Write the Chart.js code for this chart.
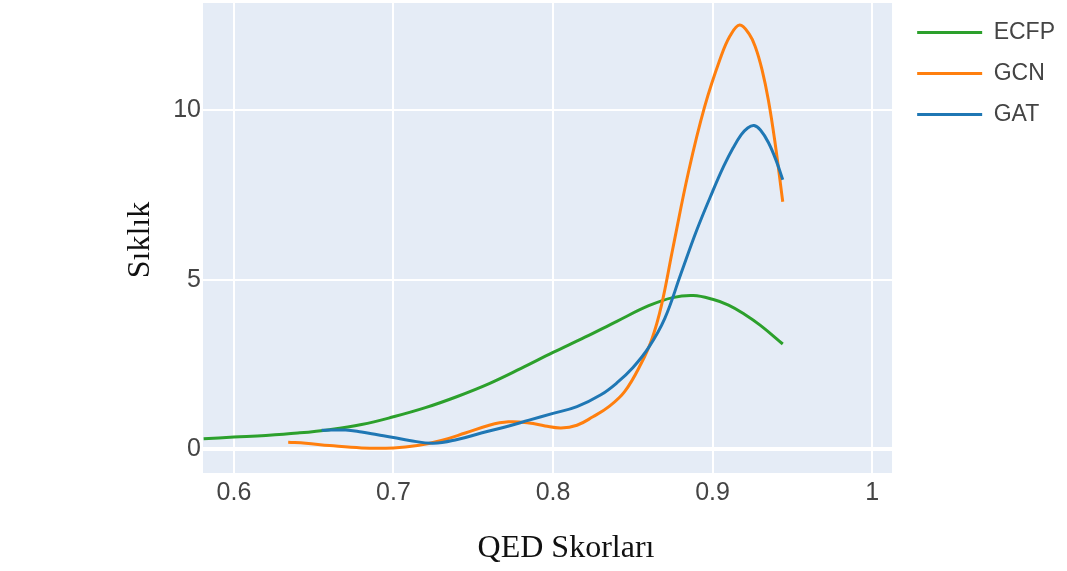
<!DOCTYPE html>
<html>
<head>
<meta charset="utf-8">
<script src="https://cdn.jsdelivr.net/npm/chart.js@4/dist/chart.umd.min.js"></script>
<style>
  html, body { margin: 0; padding: 0; background: #fff; }
  #wrap { width: 1067px; height: 571px; }
</style>
</head>
<body>
<div id="wrap"><canvas id="myChart" width="1067" height="571"></canvas></div>
<script>
// series (QED score -> density)
const seriesNames = ['ECFP', 'GCN', 'GAT'];
const seriesColors = ['#2ca02c', '#ff7f0e', '#1f77b4'];

const ecfpX = [0.581, 0.6, 0.62, 0.64, 0.66, 0.68, 0.70, 0.72, 0.74, 0.76, 0.78, 0.80, 0.82, 0.84, 0.86, 0.875, 0.888, 0.90, 0.91, 0.92, 0.93, 0.944];
const ecfpY = [0.30, 0.35, 0.40, 0.47, 0.57, 0.72, 0.95, 1.22, 1.55, 1.93, 2.38, 2.85, 3.3, 3.77, 4.23, 4.47, 4.53, 4.42, 4.25, 3.98, 3.65, 3.1];

const gcnX = [0.634, 0.645, 0.66, 0.68, 0.70, 0.715, 0.73, 0.745, 0.76, 0.772, 0.785, 0.795, 0.805, 0.815, 0.825, 0.835, 0.845, 0.855, 0.862, 0.868, 0.875, 0.885, 0.895, 0.905, 0.911, 0.917, 0.923, 0.927, 0.931, 0.935, 0.939, 0.944];
const gcnY = [0.2, 0.17, 0.1, 0.03, 0.03, 0.1, 0.25, 0.47, 0.7, 0.8, 0.77, 0.68, 0.62, 0.7, 0.95, 1.25, 1.7, 2.5, 3.25, 4.25, 5.9, 8.2, 10.1, 11.55, 12.2, 12.52, 12.25, 11.85, 11.2, 10.3, 9.1, 7.3];

const gatX = [0.655, 0.67, 0.68, 0.69, 0.70, 0.71, 0.725, 0.74, 0.755, 0.77, 0.785, 0.80, 0.815, 0.83, 0.84, 0.85, 0.86, 0.87, 0.88, 0.89, 0.90, 0.907, 0.913, 0.918, 0.922, 0.926, 0.93, 0.935, 0.94, 0.944];
const gatY = [0.55, 0.56, 0.5, 0.42, 0.34, 0.25, 0.17, 0.28, 0.47, 0.65, 0.85, 1.05, 1.25, 1.6, 1.95, 2.4, 3.0, 3.85, 5.15, 6.45, 7.6, 8.35, 8.9, 9.28, 9.48, 9.55, 9.42, 9.05, 8.5, 7.95];

const xTicks = [0.6, 0.7, 0.8, 0.9, 1];
const yTicks = [0, 5, 10];
const xTitle = 'QED Skorları';
const yTitle = 'Sıklık';

const xMin = 0.5806, xPlotMax = 1.0125;
const yMin = -0.71, yMax = 13.17;

function toPoints(xs, ys) {
  return xs.map((x, i) => ({ x: x, y: ys[i] }));
}

const allX = [ecfpX, gcnX, gatX];
const allY = [ecfpY, gcnY, gatY];

const datasets = seriesNames.map((name, i) => ({
  label: name,
  data: toPoints(allX[i], allY[i]),
  borderColor: seriesColors[i],
  backgroundColor: seriesColors[i],
  borderWidth: 3,
  pointRadius: 0,
  fill: false,
  tension: 0.4,
  order: seriesNames.length - i
}));

// plot background, only as wide as the plotted x range
const plotBg = {
  id: 'plotBg',
  beforeDraw(chart) {
    const { ctx, chartArea, scales } = chart;
    const right = scales.x.getPixelForValue(xPlotMax);
    ctx.save();
    ctx.fillStyle = '#e5ecf6';
    ctx.fillRect(chartArea.left, chartArea.top, right - chartArea.left, chartArea.bottom - chartArea.top);
    ctx.restore();
  }
};

// axis titles in serif, placed like the original
const axisTitles = {
  id: 'axisTitles',
  afterDraw(chart) {
    const { ctx, chartArea } = chart;
    ctx.save();
    ctx.fillStyle = '#111';
    ctx.font = '32px "Liberation Serif", "Times New Roman", serif';
    ctx.textAlign = 'center';
    ctx.textBaseline = 'middle';
    ctx.fillText(xTitle, chartArea.left + 363, chartArea.bottom + 76);
    ctx.translate(chartArea.left - 62, (chartArea.top + chartArea.bottom) / 2 + 2);
    ctx.rotate(-Math.PI / 2);
    ctx.fillText(yTitle, 0, 0);
    ctx.restore();
  }
};

const tickFont = { family: '"Liberation Sans", Arial, sans-serif', size: 25 };

const ctx = document.getElementById('myChart').getContext('2d');
const myChart = new Chart(ctx, {
  type: 'line',
  data: { datasets: datasets },
  plugins: [plotBg, axisTitles],
  options: {
    responsive: false,
    animation: false,
    layout: { padding: { top: 3, right: 2, bottom: 0, left: 0 } },
    plugins: {
      tooltip: { enabled: false },
      legend: {
        position: 'right',
        align: 'start',
        labels: {
          font: { family: '"Liberation Sans", Arial, sans-serif', size: 23 },
          color: '#444',
          boxWidth: 65,
          padding: 18,
          usePointStyle: true,
          pointStyle: 'line',
          pointStyleWidth: 65,
          sort: (a, b) => a.datasetIndex - b.datasetIndex
        }
      }
    },
    scales: {
      x: {
        type: 'linear',
        min: xMin,
        max: xMin + (899 - 203) / 1595,
        afterFit: (scale) => {
          scale.height = 98;
          scale.paddingLeft = 0;
          scale.paddingRight = 0;
        },
        afterBuildTicks: (scale) => { scale.ticks = xTicks.map(v => ({ value: v })); },
        ticks: {
          font: tickFont,
          color: '#444',
          padding: 5,
          callback: (v) => String(Number(v.toFixed(1)))
        },
        grid: { color: '#ffffff', lineWidth: 2, drawTicks: false },
        border: { display: false }
      },
      y: {
        type: 'linear',
        min: yMin,
        max: yMax,
        afterFit: (scale) => {
          scale.width = 203;
          scale.paddingTop = 0;
          scale.paddingBottom = 0;
        },
        afterBuildTicks: (scale) => { scale.ticks = yTicks.map(v => ({ value: v })); },
        ticks: {
          font: tickFont,
          color: '#444',
          padding: 2,
          callback: (v) => String(v)
        },
        grid: {
          color: '#ffffff',
          lineWidth: (c) => (c.tick && c.tick.value === 0 ? 4 : 2),
          drawTicks: false
        },
        border: { display: false }
      }
    }
  }
});
</script>
</body>
</html>
